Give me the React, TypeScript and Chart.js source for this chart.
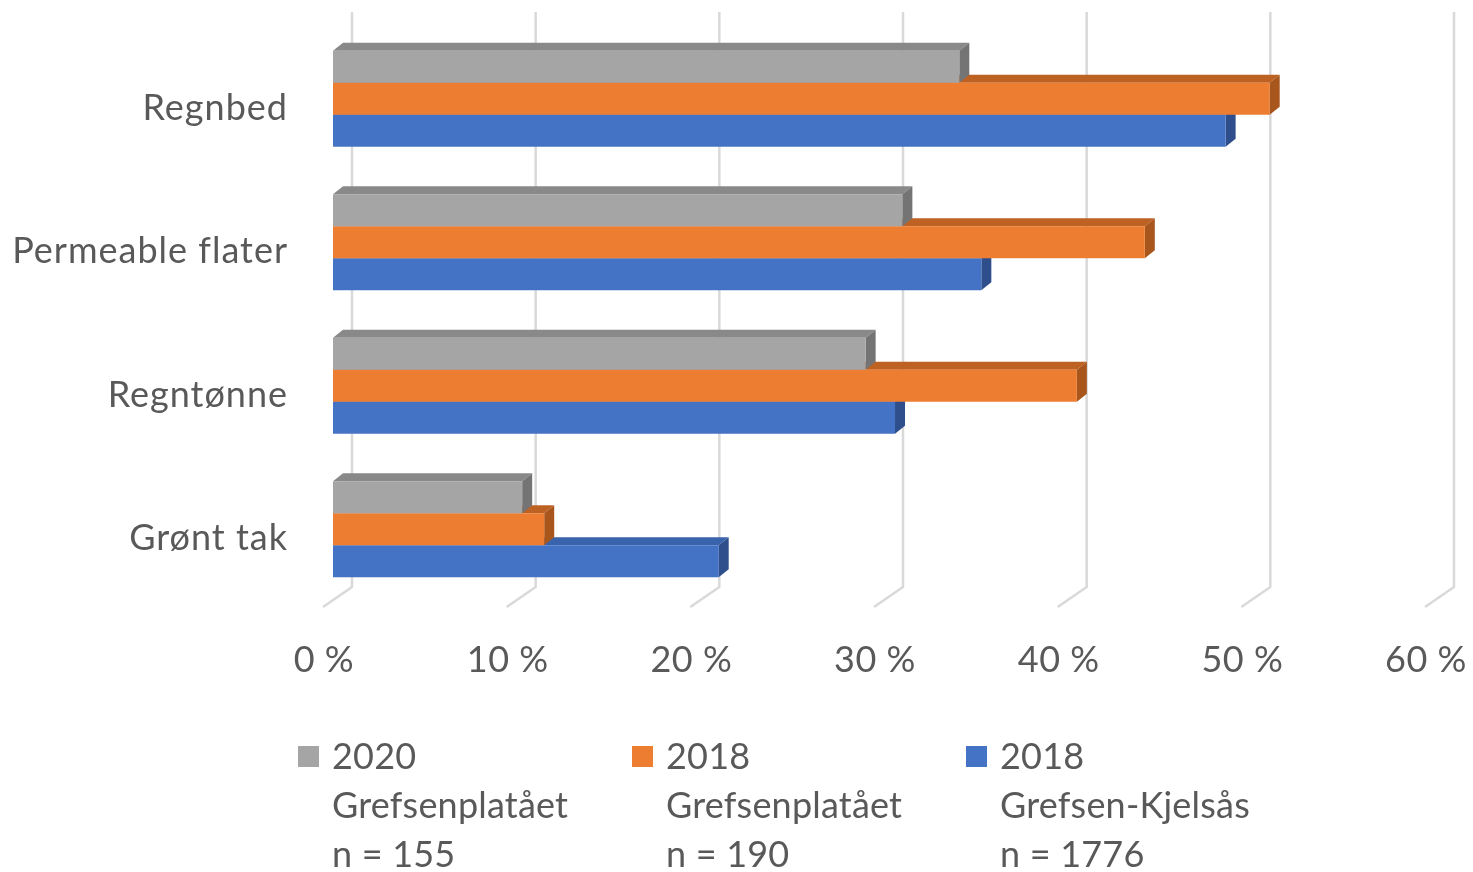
import React, { useEffect, useRef } from "react";
import { Chart, registerables } from "chart.js";

Chart.register(...registerables);

const categories = ["Regnbed", "Permeable flater", "Regntønne", "Grønt tak"];
const legendLines = [
  ["2020", "Grefsenplatået", "n = 155"],
  ["2018", "Grefsenplatået", "n = 190"],
  ["2018", "Grefsen-Kjelsås", "n = 1776"],
];
const values2020Grefsenplataet = [34.1, 31.0, 29.0, 10.3];
const values2018Grefsenplataet = [51.0, 44.2, 40.5, 11.5];
const values2018GrefsenKjelsas = [48.6, 35.3, 30.6, 21.0];
const xTickValues = [0, 10, 20, 30, 40, 50, 60];
const xTickLabels = ["0 %", "10 %", "20 %", "30 %", "40 %", "50 %", "60 %"];

const frontColors = ["#A5A5A5", "#ED7D31", "#4472C4"];
const topColors = ["#898989", "#BE6223", "#3A63AE"];
const sideColors = ["#747474", "#A8561C", "#2E4F8C"];
const TEXT = "#595959";
const FONT = "36px Lato, 'Open Sans', sans-serif";
const DX = 10;
const DY = -8;

const threeDPlugin = {
  id: "threeD",
  beforeDatasetsDraw(chart: any) {
    const ctx = chart.ctx;
    const xs = chart.scales.x;
    const area = chart.chartArea;
    ctx.save();
    ctx.strokeStyle = "#D9D9D9";
    ctx.lineWidth = 2.5;
    ctx.lineJoin = "round";
    const top = 12;
    const backBottom = area.bottom - 14;
    const frontBottom = area.bottom + 6;
    xTickValues.forEach((v) => {
      const px = xs.getPixelForValue(v);
      ctx.beginPath();
      ctx.moveTo(px + 19, top);
      ctx.lineTo(px + 19, backBottom);
      ctx.lineTo(px - 10, frontBottom);
      ctx.stroke();
    });
    for (let d = chart.data.datasets.length - 1; d >= 0; d--) {
      const meta = chart.getDatasetMeta(d);
      meta.data.forEach((el: any) => {
        const p = el.getProps(["x", "y", "base", "height"], true);
        const t = p.y - p.height / 2;
        const b = p.y + p.height / 2;
        ctx.fillStyle = topColors[d];
        ctx.beginPath();
        ctx.moveTo(p.base, t);
        ctx.lineTo(p.base + DX, t + DY);
        ctx.lineTo(p.x + DX, t + DY);
        ctx.lineTo(p.x, t);
        ctx.closePath();
        ctx.fill();
        ctx.fillStyle = sideColors[d];
        ctx.beginPath();
        ctx.moveTo(p.x, t);
        ctx.lineTo(p.x + DX, t + DY);
        ctx.lineTo(p.x + DX, b + DY);
        ctx.lineTo(p.x, b);
        ctx.closePath();
        ctx.fill();
      });
    }
    ctx.restore();
  },
  afterDraw(chart: any) {
    const ctx = chart.ctx;
    const xs = chart.scales.x;
    const ys = chart.scales.y;
    ctx.save();
    ctx.fillStyle = TEXT;
    ctx.font = FONT;
    (ctx as any).letterSpacing = "1px";
    ctx.textBaseline = "alphabetic";
    ctx.textAlign = "right";
    categories.forEach((c, i) => {
      const py = ys.getPixelForValue(i);
      ctx.fillText(c, 288, py + 21);
    });
    ctx.textAlign = "center";
    (ctx as any).letterSpacing = "0.5px";
    xTickValues.forEach((v, i) => {
      ctx.fillText(xTickLabels[i], xs.getPixelForValue(v) - 9, 672);
    });
    (ctx as any).letterSpacing = "0.2px";
    const legendX = [298, 632, 966];
    ctx.textAlign = "left";
    legendLines.forEach((lines, i) => {
      ctx.fillStyle = frontColors[i];
      ctx.fillRect(legendX[i], 746, 21, 21);
      ctx.fillStyle = TEXT;
      lines.forEach((ln, j) => {
        ctx.fillText(ln, legendX[i] + 34, 769 + j * 49);
      });
    });
    ctx.restore();
  },
};

export default function App() {
  const ref = useRef<HTMLCanvasElement | null>(null);
  useEffect(() => {
    if (!ref.current) return;
    const chart = new Chart(ref.current, {
      type: "bar",
      data: {
        labels: categories,
        datasets: [
          { label: legendLines[0].join(" "), data: values2020Grefsenplataet, backgroundColor: frontColors[0] },
          { label: legendLines[1].join(" "), data: values2018Grefsenplataet, backgroundColor: frontColors[1] },
          { label: legendLines[2].join(" "), data: values2018GrefsenKjelsas, backgroundColor: frontColors[2] },
        ],
      },
      options: {
        indexAxis: "y",
        animation: false,
        responsive: false,
        layout: { padding: { left: 333, right: 38, top: 27, bottom: 271 } },
        datasets: { bar: { categoryPercentage: 0.67, barPercentage: 1.0 } },
        scales: {
          x: { min: 0, max: 60, display: false },
          y: { display: false },
        },
        plugins: { legend: { display: false }, tooltip: { enabled: false } },
      },
      plugins: [threeDPlugin],
    });
    return () => chart.destroy();
  }, []);
  return (
    <div style={{ position: "absolute", left: 0, top: 0, width: 1473, height: 872, background: "#fff" }}>
      <canvas ref={ref} width={1473} height={872} />
    </div>
  );
}
